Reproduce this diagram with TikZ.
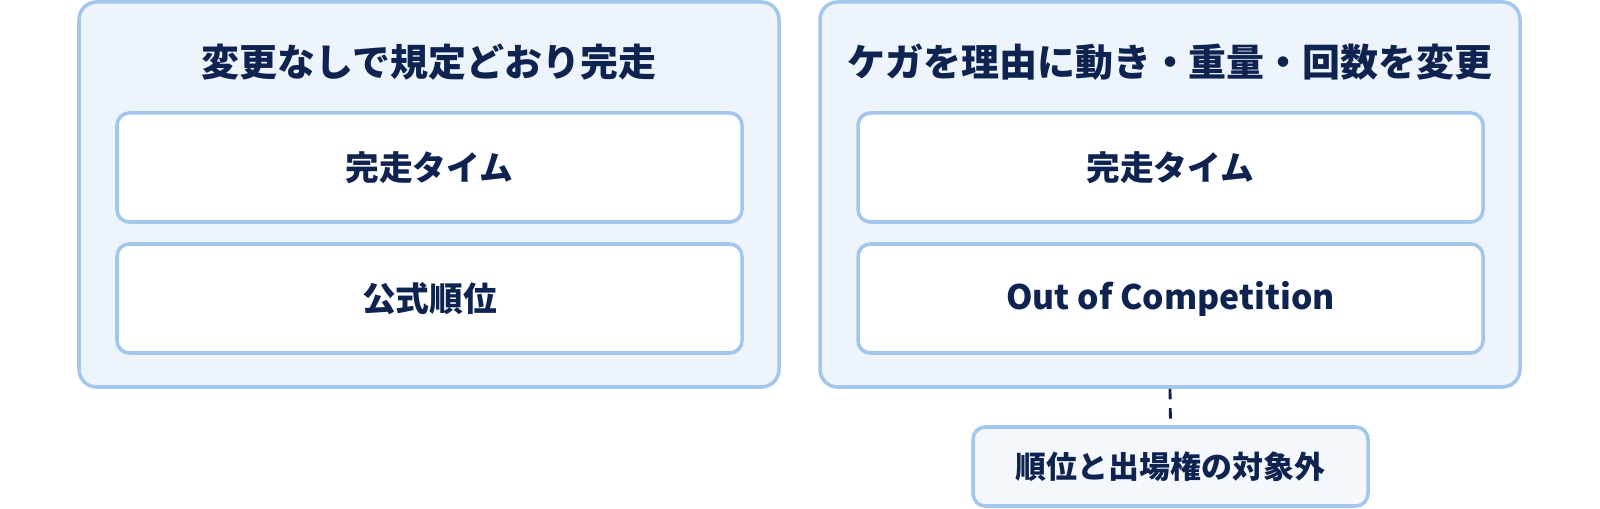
\documentclass[tikz,border=0pt]{standalone}
\usepackage{fontspec}
\setmainfont{Noto Sans CJK JP}
\definecolor{edgeblue}{HTML}{A3C6EC}
\definecolor{panelfill}{HTML}{EEF4FC}
\definecolor{boxfill}{HTML}{F4F8FD}
\definecolor{navy}{HTML}{0F2350}
\begin{document}
\begin{tikzpicture}[
        panel/.style={draw=edgeblue, line width=1pt, fill=panelfill, rounded corners=5pt,
            minimum width=7cm, minimum height=3.85cm},
        item/.style={draw=edgeblue, line width=1pt, fill=white, rounded corners=3.5pt,
            minimum width=6.25cm, minimum height=1.09cm, text=navy,
            font=\fontsize{9.6}{11}\selectfont\bfseries},
        heading/.style={text=navy, font=\fontsize{10.8}{13}\selectfont\bfseries}
    ]
        \useasboundingbox[fill=white] (0, 0) rectangle (16, -5.09);
        \node[panel] (keep) at (4.29, -1.945) {};
        \node[panel] (change) at (11.70, -1.945) {};
        \node[heading] (keeptitle) at (4.29, -0.62) {変更なしで規定どおり完走};
        \node[heading] (changetitle) at (11.70, -0.62) {ケガを理由に動き・重量・回数を変更};
        \node[item] (keeptime) at (4.295, -1.675) {完走タイム};
        \node[item] (keeprank) at (4.295, -2.985) {公式順位};
        \node[item] (changetime) at (11.705, -1.675) {完走タイム};
        \node[item] (changeoc) at (11.705, -2.985) {Out of Competition};
        \node[item, fill=boxfill, minimum width=3.95cm, minimum height=0.79cm,
            font=\fontsize{8.8}{10}\selectfont\bfseries] (outside) at (11.705, -4.665) {順位と出場権の対象外};
        \draw[navy, line width=0.8pt, dash pattern=on 3pt off 2.5pt] (change.south) -- (outside.north);
    \end{tikzpicture}
\end{document}
